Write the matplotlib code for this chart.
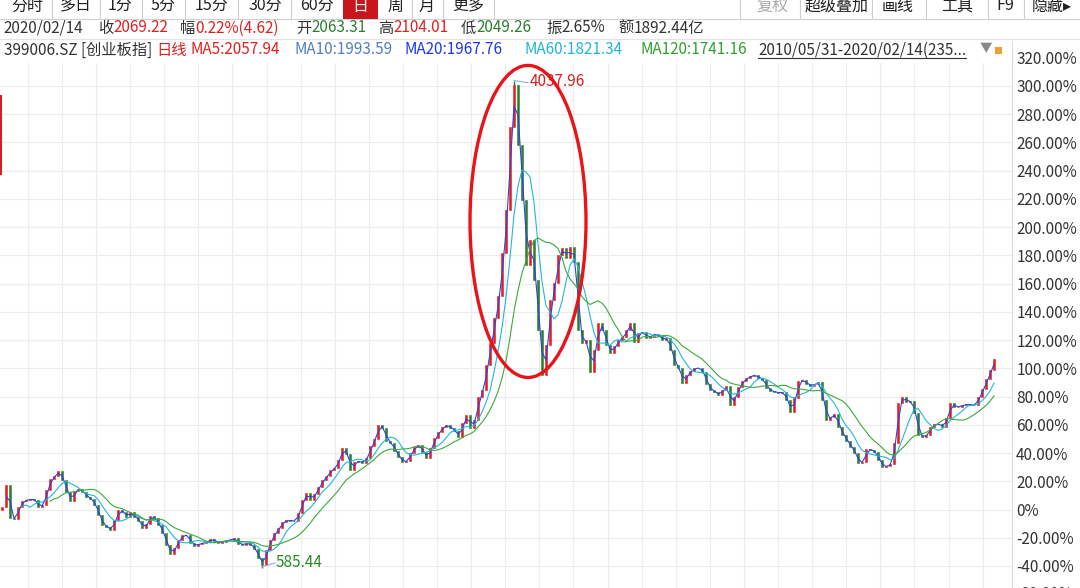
import matplotlib
matplotlib.use('Agg')
import matplotlib.pyplot as plt
import numpy as np
import pandas as pd
from matplotlib.patches import Rectangle, Ellipse
from matplotlib.lines import Line2D

plt.rcParams['font.family'] = ['Noto Sans CJK SC', 'DejaVu Sans']

W, H, DPI = 1080, 588, 100

# ---- data: close (% change vs. 2010/05/31 base), sampled bars ----
close_pct = [
    1.8, 17.4, -6.0, -6.7, 1.8, 6.0, 6.7, 7.4, 6.7, 1.8,
    3.2, 13.8, 21.6, 23.7, 27.3, 20.9, 12.4, 6.0, 13.1, 14.5,
    12.4, 8.9, 7.4, 3.2, -3.9, -11.0, -12.4, -14.5, -7.4, -0.4,
    -1.8, -5.3, -1.8, -5.3, -8.1, -13.1, -10.3, -4.6, -6.0, -11.0,
    -16.6, -25.1, -31.5, -27.3, -21.6, -18.1, -18.1, -23.7, -25.8, -24.4,
    -23.7, -23.0, -20.9, -22.3, -23.7, -23.0, -21.6, -21.6, -20.2, -24.4,
    -25.1, -23.7, -25.1, -28.0, -34.3, -39.3, -28.7, -21.6, -16.6, -13.1,
    -8.9, -7.4, -8.1, -8.1, -2.5, 6.7, 11.7, 6.7, 11.0, 15.9,
    20.9, 23.7, 28.0, 29.4, 35.1, 43.6, 39.3, 28.0, 33.6, 34.3,
    32.9, 36.5, 45.0, 49.9, 59.8, 57.7, 48.5, 47.1, 41.4, 37.2,
    33.6, 34.3, 40.0, 44.3, 45.7, 40.7, 36.5, 43.6, 50.6, 54.9,
    58.4, 59.8, 57.7, 55.6, 51.3, 61.3, 66.9, 57.7, 63.4, 79.7,
    84.6, 102.3, 117.9, 135.6, 151.2, 181.7, 212.1, 270.9, 300.6, 258.1,
    219.2, 173.2, 190.9, 162.5, 127.1, 95.3, 116.5, 148.4, 160.4, 180.2,
    185.2, 178.1, 185.9, 175.3, 127.1, 117.9, 120.0, 97.4, 113.0, 132.1,
    127.1, 116.5, 110.8, 115.8, 120.0, 122.2, 127.1, 132.1, 118.6, 125.0,
    125.7, 121.5, 122.9, 124.3, 122.9, 120.0, 121.5, 113.0, 102.3, 100.2,
    89.6, 95.3, 98.1, 100.2, 100.2, 97.4, 88.9, 84.6, 83.2, 81.1,
    84.6, 87.5, 74.0, 79.7, 86.8, 91.0, 93.1, 94.5, 95.3, 93.1,
    91.7, 86.0, 83.9, 83.2, 82.5, 83.2, 77.5, 69.0, 79.0, 91.0,
    91.7, 88.9, 87.5, 88.9, 90.3, 77.5, 63.4, 65.5, 67.6, 58.4,
    52.8, 48.5, 44.3, 40.0, 32.9, 33.6, 42.8, 42.1, 40.7, 35.1,
    30.1, 30.8, 32.2, 47.1, 75.4, 79.7, 76.1, 76.8, 68.3, 52.8,
    51.3, 52.8, 58.4, 60.5, 60.5, 58.4, 64.8, 75.4, 72.6, 72.6,
    74.0, 74.7, 74.0, 74.0, 79.7, 85.3, 92.4, 98.8, 106.9,
]
base_pct = 0.0
peak_high_value = 4037.96
trough_low_value = 585.44
base_value = 1000.0
y_ticks = list(range(-40, 321, 20))

header_items = ['分时', '多日', '1分', '5分', '15分', '30分', '60分', '日', '周', '月', '更多']
right_items = ['复权', '超级叠加', '画线', '工具', 'F9', '隐藏▸']

red, green, dark = '#e02020', '#2e7d32', '#333333'

quote_date = '2020/02/14'
quote_items = [('收', '2069.22', red), ('幅', '0.22%(4.62)', red), ('开', '2063.31', green),
               ('高', '2104.01', red), ('低', '2049.26', green), ('振', '2.65%', dark),
               ('额', '1892.44亿', dark)]
legend_items = [('399006.SZ [创业板指]', dark), ('日线', red), ('MA5:2057.94', red),
                ('MA10:1993.59', '#4f7fc0'), ('MA20:1967.76', '#2035f0'),
                ('MA60:1821.34', '#1fb6d6'), ('MA120:1741.16', '#2ea02e'),
                ('2010/05/31-2020/02/14(235...', dark)]

# ---- figure ----
fig = plt.figure(figsize=(W / DPI, H / DPI), dpi=DPI)
fig.patch.set_facecolor('white')
renderer = fig.canvas.get_renderer()

def px(x, y):
    return x / W, 1 - y / H

ax_left, ax_right, ax_top, ax_bot = 0, 1012, 40, 588
ax = fig.add_axes([ax_left / W, 1 - ax_bot / H, (ax_right - ax_left) / W, (ax_bot - ax_top) / H])

zero_px, per = 509.5, 1.412
ax.set_ylim((zero_px - ax_bot) / per, (zero_px - ax_top) / per)
n = len(close_pct)
ax.set_xlim(-0.5, (ax_right - 2) / 4)

c = np.array(close_pct)
o = np.concatenate([[base_pct], c[:-1]])
idx = np.arange(n)
cols = np.where(c >= o, red, green)
ax.bar(idx, c - o, bottom=o, width=0.6, color=cols, edgecolor=cols, linewidth=0.4, zorder=3)

s = pd.Series(c)
ax.plot(idx, s.rolling(2).mean(), color='#2a44e8', lw=0.8, zorder=4)
ax.plot(idx, s.rolling(6).mean(), color='#22b8d8', lw=0.8, zorder=4)
ax.plot(idx, s.rolling(13).mean(), color='#3aaa3a', lw=0.8, zorder=4)

peak_i = int(np.argmax(c))
low_i = int(np.argmin(c))
peak_pct = (peak_high_value / base_value - 1) * 100
low_pct = (trough_low_value / base_value - 1) * 100
ax.vlines([peak_i], c[peak_i], peak_pct, color=green, lw=1, zorder=3)
ax.vlines([low_i], low_pct, c[low_i], color=red, lw=1, zorder=3)
ax.plot([peak_i, peak_i + 3.5], [peak_pct, peak_pct - 1.5], color='#7ab8e0', lw=0.8, zorder=5)
ax.text(peak_i + 4, peak_pct - 1.0, f'{peak_high_value:.2f}', color='#d42020', fontsize=11,
        va='center', ha='left', zorder=6)
ax.plot([low_i, low_i + 3.2], [low_pct + 1, low_pct + 3.5], color='#7ab8e0', lw=0.8, zorder=5)
ax.text(low_i + 3.5, low_pct + 4, f'{trough_low_value:.2f}', color='#2a8a2a', fontsize=11,
        va='center', ha='left', zorder=6)

ax.add_patch(Ellipse((peak_i + 3.5, 204), width=29, height=221, angle=0, fill=False,
                     edgecolor='#e8141a', lw=2.4, zorder=7))

ax.set_yticks(y_ticks)
ax.set_yticklabels(['0%' if v == 0 else f'{v:.2f}%' for v in y_ticks])
ax.yaxis.tick_right()
ax.tick_params(axis='y', length=0, pad=3, labelsize=11, labelcolor=dark)
vg = [(62 + 34.1 * k - 2) / 4 for k in range(-1, 28)]
ax.set_xticks(vg)
ax.set_xticklabels([])
ax.tick_params(axis='x', length=0)
ax.grid(True, color='#ececec', lw=0.8, zorder=0)
ax.set_axisbelow(True)
for sp in ['top', 'bottom', 'left']:
    ax.spines[sp].set_visible(False)
ax.spines['right'].set_color('#d5dbe5')
ax.spines['right'].set_linewidth(0.8)
ax.text(1.003, -60, '-60.00%', transform=ax.get_yaxis_transform(), fontsize=11, color=dark,
        va='center', ha='left', clip_on=False)

# ---- header ----
fig.patches.append(Rectangle((0, 1 - 41 / H), 1, 41 / H, transform=fig.transFigure,
                             facecolor='white', edgecolor='none', zorder=10))
fig.patches.append(Rectangle((0, 1 - 63 / H), 1012 / W, 22 / H, transform=fig.transFigure,
                             facecolor='white', edgecolor='none', zorder=10))
fig.patches.append(Rectangle((0, 1 - 175 / H), 2 / W, 80 / H, transform=fig.transFigure,
                             facecolor='#d42020', edgecolor='none', zorder=10))

def ftext(x, y, s, color=dark, size=11, ha='left', **kw):
    return fig.text(x / W, 1 - y / H, s, color=color, fontsize=size, ha=ha, va='center',
                    zorder=12, **kw)

def right_edge(t):
    bb = t.get_window_extent(renderer=renderer)
    return bb.x1

def fline(x0, y0, x1, y1, color='#d0d0d0', lw=0.8):
    fig.add_artist(Line2D([x0 / W, x1 / W], [1 - y0 / H, 1 - y1 / H], transform=fig.transFigure,
                          color=color, lw=lw, zorder=11))

centers = [27, 76, 120, 163, 212, 265, 317, 360, 395, 427, 468]
seps = [52, 100, 142, 185, 238, 291, 412, 443, 494]
for sx in seps:
    fline(sx, 0, sx, 18)
fig.patches.append(Rectangle(px(343, 19), 35 / W, 19 / H, transform=fig.transFigure,
                             facecolor='#c8161d', edgecolor='none', zorder=11))
for cx, lab in zip(centers, header_items):
    ftext(cx, 6, lab, color='white' if lab == '日' else '#222222', size=11.5, ha='center')
rc = [772, 837, 898, 957, 1005, 1052]
rseps = [740, 800, 872, 926, 988, 1024]
for sx in rseps:
    fline(sx, 0, sx, 18)
for cx, lab in zip(rc, right_items):
    ftext(cx, 6, lab, color='#aaaaaa' if lab == '复权' else '#222222', size=11.5, ha='center')
fline(0, 19, 1080, 19)
fline(0, 39, 1080, 39, color='#e4e4e4')

ftext(3, 28, quote_date)
group_x = [98, 180, 296, 378, 461, 546, 618]
for gx, (lab, val, col) in zip(group_x, quote_items):
    t = ftext(gx, 28, lab)
    ftext(right_edge(t) + 0.5, 28, val, color=col)

leg_x = [3, 153, 185, 295, 405, 525, 640, 758]
prev = 0
for lx, (t, col) in zip(leg_x, legend_items):
    x = max(lx, prev + 4)
    tt = ftext(x, 50, t, color=col)
    prev = right_edge(tt)
    if t.startswith('2010'):
        fline(x, 58, prev, 58, color=dark, lw=0.8)
ftext(980, 49, '▼', color='#888888', size=9)
fig.patches.append(Rectangle(px(995, 54), 7 / W, 7 / H, transform=fig.transFigure,
                             facecolor='#f0a030', edgecolor='none', zorder=11))

fig.savefig('out.png', dpi=DPI)
